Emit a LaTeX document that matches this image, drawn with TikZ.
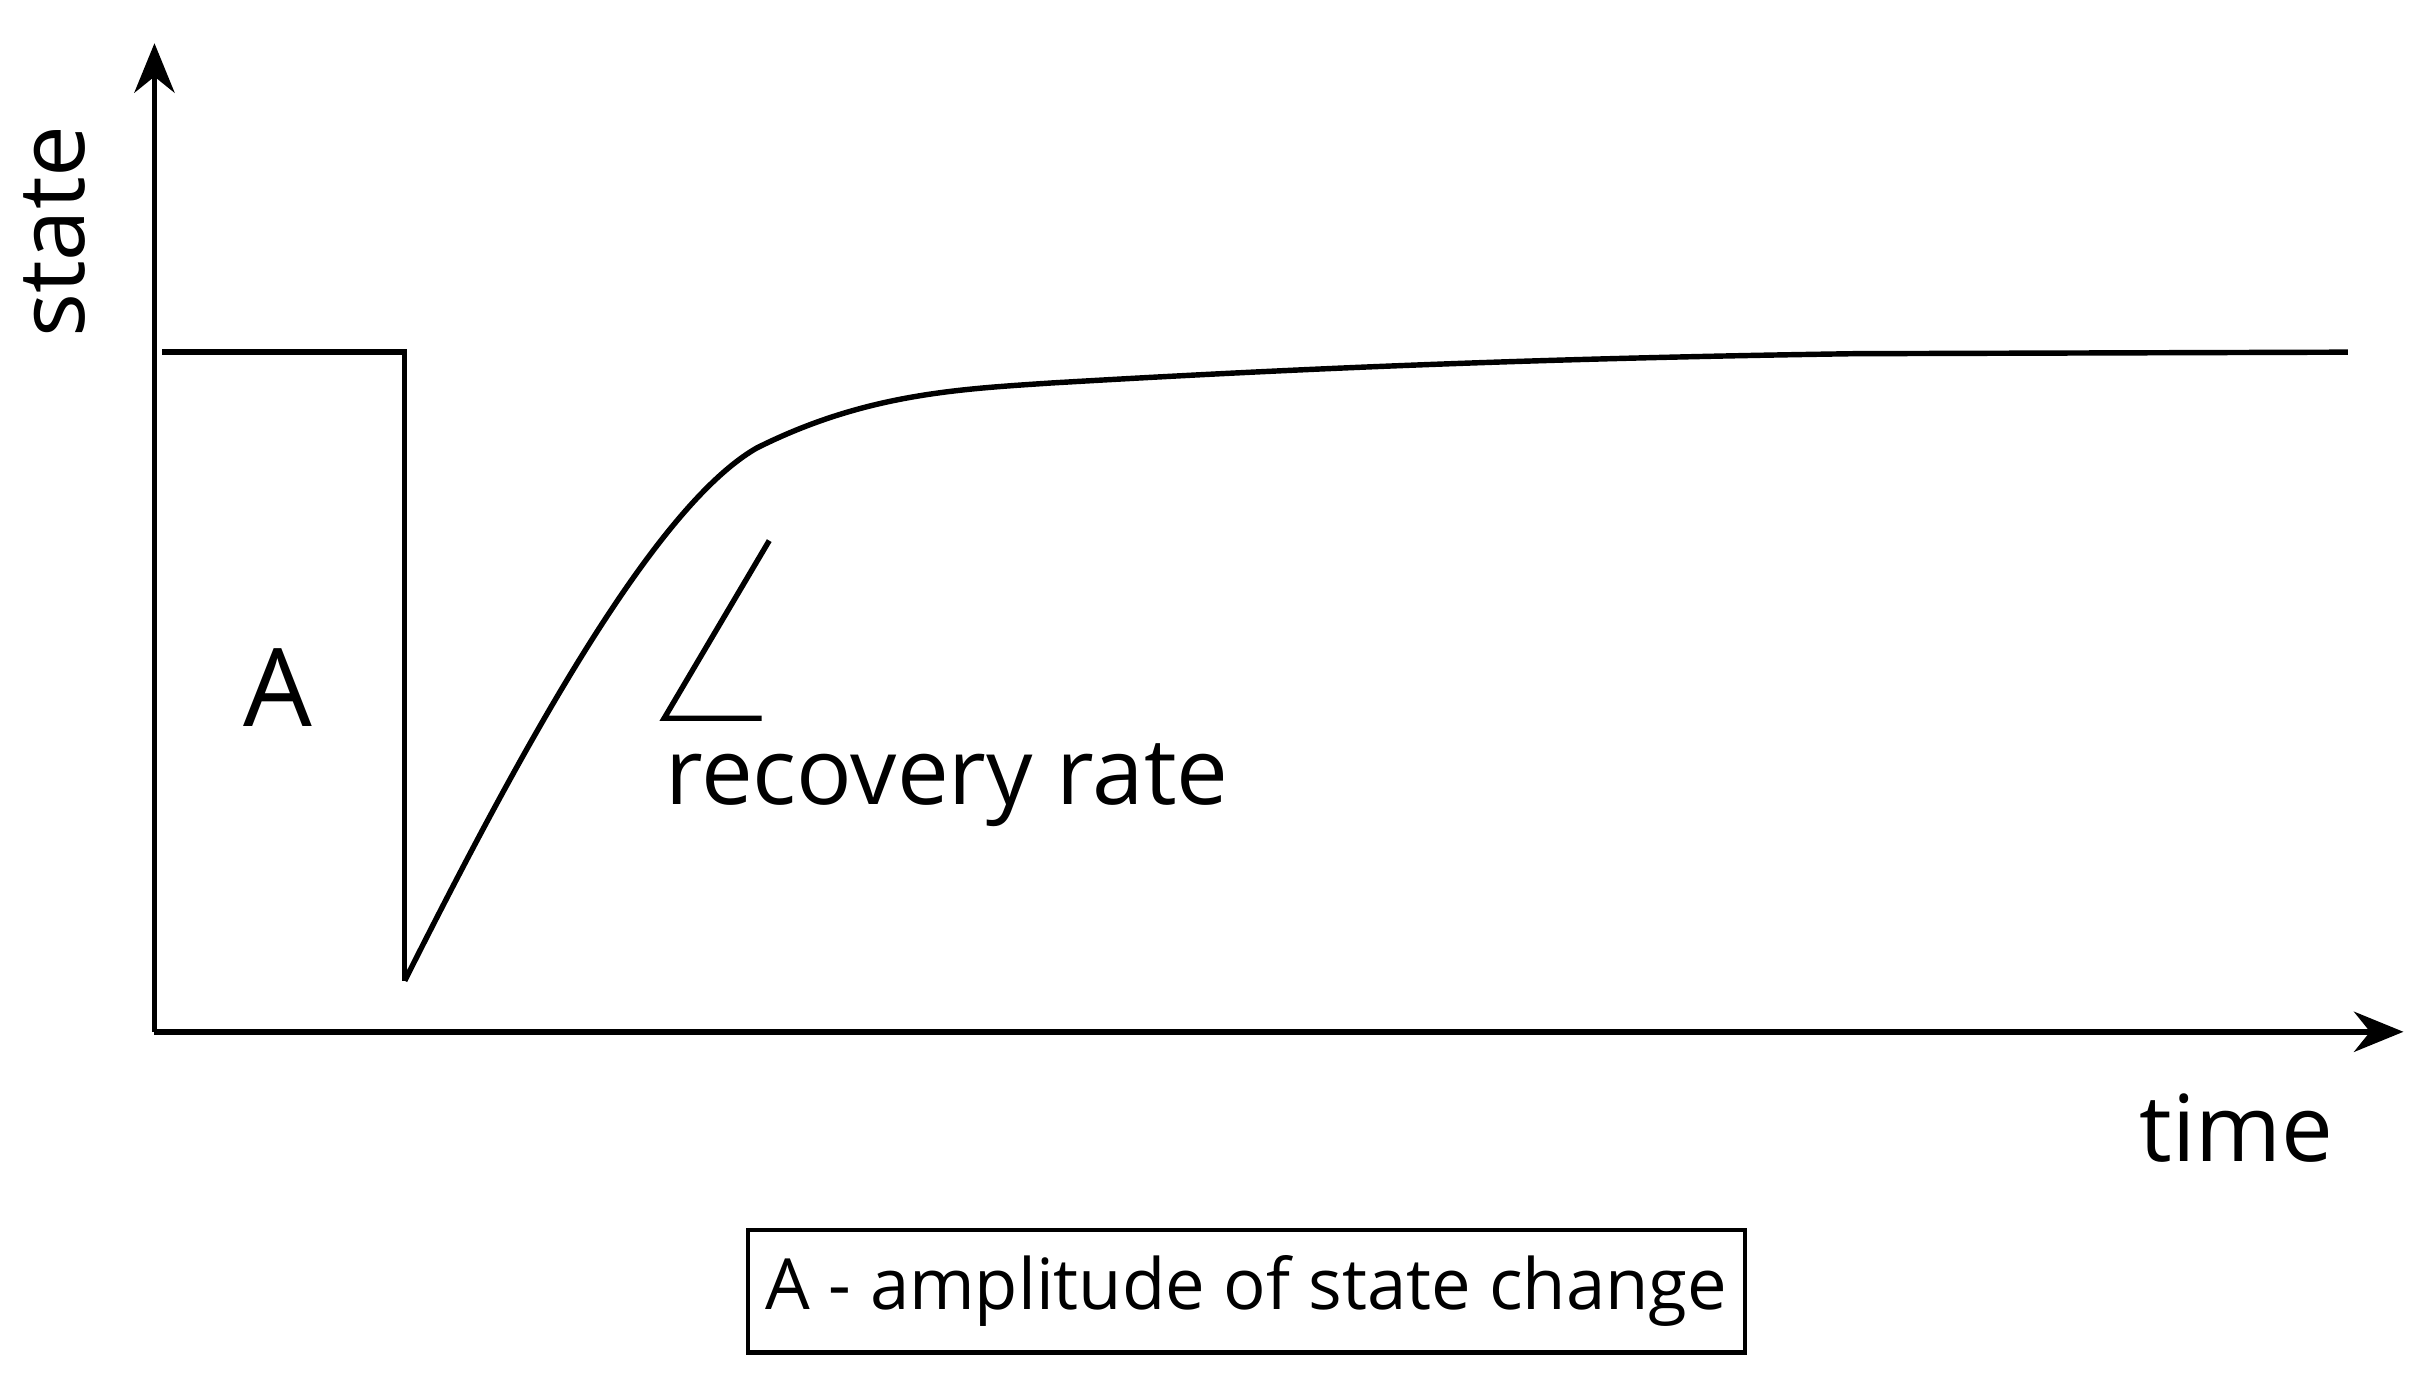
\documentclass[tikz,border=0pt]{standalone}
\usepackage{fontspec}
\setmainfont{Open Sans}
\usetikzlibrary{arrows.meta}
\begin{document}
\begin{tikzpicture}[x=0.01cm,y=-0.01cm,
  ln/.style={line width=1pt,black},
  ax/.style={line width=1pt,-{Stealth[length=0.32cm,width=0.26cm]}},
  lbl/.style={font=\fontsize{17}{20}\selectfont,inner sep=0pt}]
\useasboundingbox (0,0) rectangle (1568,895);
\coordinate (O) at (100,668);
\coordinate (Ytop) at (100,28);
\coordinate (Xend) at (1556,668);
\draw[ax] (O) -- (Ytop);
\draw[ax] (O) -- (Xend);
\coordinate (s0) at (105,228);
\coordinate (s1) at (262,228);
\coordinate (s2) at (262,635);
\draw[ln] (s0) -- (s1) -- (s2);
\draw[ln] (s2) .. controls (330,500) and (420,330) .. (490,290)
  .. controls (560,255) and (620,252) .. (680,248)
  .. controls (850,238) and (1000,232) .. (1200,229) -- (1520,228);
\coordinate (m1) at (498,350);
\coordinate (m2) at (430,465);
\coordinate (m3) at (493,465);
\draw[ln] (m1) -- (m2) -- (m3);
\node[lbl,font=\fontsize{20}{24}\selectfont] (A) at (180,445) {A};
\node[lbl,anchor=west] (rr) at (430,508) {recovery rate};
\node[lbl] (time) at (1448,730) {time};
\node[lbl,rotate=90] (state) at (35,150) {state};
\node[draw,line width=0.8pt,minimum width=6.05cm,minimum height=0.79cm,
  font=\fontsize{13}{16}\selectfont] (box) at (807,836) {A - amplitude of state change};
\end{tikzpicture}
\end{document}
